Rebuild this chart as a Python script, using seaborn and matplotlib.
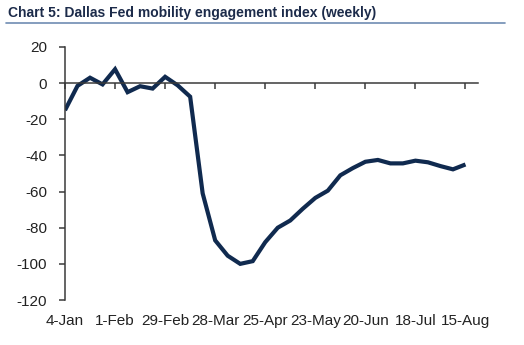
import matplotlib
matplotlib.use("Agg")
import matplotlib.pyplot as plt
import seaborn as sns
import pandas as pd
from matplotlib.lines import Line2D
from matplotlib import font_manager

weeks = list(range(33))
index_values = [-15, -1.5, 3, -0.7, 7.7, -5, -1.7, -3, 3.5, -1.2, -7.5,
                -61, -87, -95.5, -100, -98.5, -88, -80, -76, -69.5, -63.5,
                -59.5, -51, -47, -43.5, -42.5, -44.4, -44.4, -42.9, -43.8,
                -45.9, -47.7, -45]
tick_weeks = [0, 4, 8, 12, 16, 20, 24, 28, 32]
tick_labels = ["4-Jan", "1-Feb", "29-Feb", "28-Mar", "25-Apr", "23-May",
               "20-Jun", "18-Jul", "15-Aug"]
y_ticks = [20, 0, -20, -40, -60, -80, -100, -120]
title = "Chart 5: Dallas Fed mobility engagement index (weekly)"

sns.set_theme(style="white")
plt.rcParams["font.family"] = ["Liberation Sans", "DejaVu Sans"]
plt.rcParams["axes.unicode_minus"] = False

names = {f.name for f in font_manager.fontManager.ttflist}
narrow = "Liberation Sans Narrow" in names

df = pd.DataFrame({"week": weeks, "value": index_values})

fig = plt.figure(figsize=(5.24, 3.45), dpi=100)
ax = fig.add_axes([65 / 524, 1 - 300 / 345, (478 - 65) / 524, (300 - 47) / 345])

sns.lineplot(data=df, x="week", y="value", ax=ax, color="#102a4f",
             linewidth=3.0, solid_joinstyle="miter", solid_capstyle="butt")

ax.set_xlim(0, 33)
ax.set_ylim(-120, 20)
ax.set_xlabel("")
ax.set_ylabel("")

spine_c = "#3a3a3a"
for s in ["top", "right"]:
    ax.spines[s].set_visible(False)
ax.spines["left"].set_color(spine_c)
ax.spines["left"].set_linewidth(1.1)
ax.spines["bottom"].set_color(spine_c)
ax.spines["bottom"].set_linewidth(1.1)
ax.spines["bottom"].set_position(("data", 0))

tick_font = ["Liberation Sans Narrow", "Liberation Sans"] if narrow else ["Liberation Sans"]
tick_size = 12.5 if narrow else 11

ax.set_yticks(y_ticks)
ax.set_yticklabels([str(v) for v in y_ticks], family=tick_font)
ax.tick_params(axis="y", direction="out", length=4, width=1.1, color=spine_c,
               labelsize=tick_size, labelcolor="#222222", pad=9, left=True)
ax.set_xticks(tick_weeks)
ax.tick_params(axis="x", direction="out", length=4, width=1.1, color=spine_c,
               labelbottom=False, bottom=True)

sec = ax.secondary_xaxis(0)
sec.set_xticks(tick_weeks)
sec.set_xticklabels(tick_labels, family=tick_font)
sec.spines["bottom"].set_visible(False)
sec.tick_params(axis="x", length=0, labelsize=tick_size, labelcolor="#222222", pad=10)

title_font = ["Liberation Sans Narrow", "Liberation Sans"] if narrow else ["Liberation Sans"]
fig.text(8 / 524, 1 - 12.5 / 345, title, fontsize=11.5 if narrow else 10,
         fontweight="bold", color="#1c2b4a", va="center", ha="left",
         family=title_font)
fig.add_artist(Line2D([6 / 524, 505 / 524], [1 - 23 / 345, 1 - 23 / 345],
                      transform=fig.transFigure, color="#6f8cb3", linewidth=1.2))

fig.savefig("out.png", dpi=100)
